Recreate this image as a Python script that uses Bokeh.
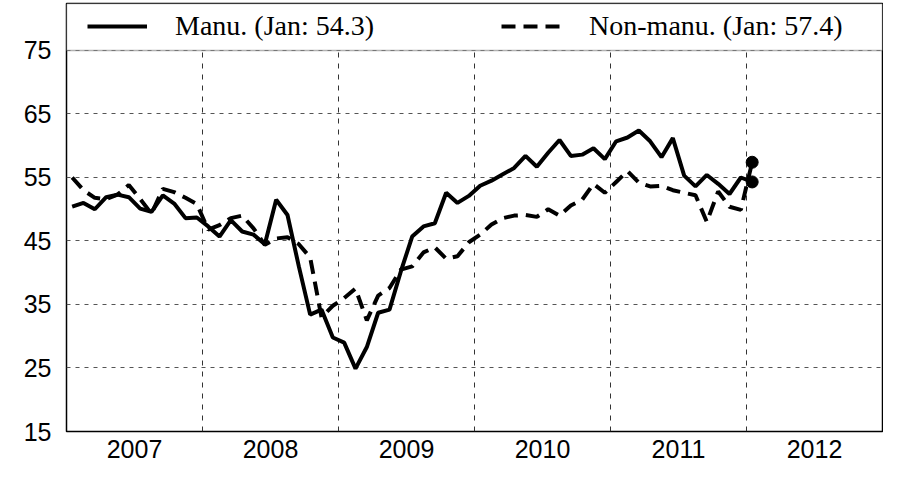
import pandas as pd
from bokeh.plotting import figure
from bokeh.models import FixedTicker, Range1d, BoxAnnotation, Legend, LegendItem
from bokeh.embed import file_html
from bokeh.resources import INLINE

# Monthly data, Jan 2007 .. Jan 2012
months = pd.date_range("2007-01-01", "2012-01-01", freq="MS")

manu = [50.4, 51.0, 50.0, 51.9, 52.3, 51.9, 50.1, 49.6, 52.2, 50.9, 48.6, 48.7,
        47.3, 45.7, 48.3, 46.5, 46.0, 44.5, 51.5, 49.1, 41.0, 33.4, 34.2, 29.8,
        29.0, 24.9, 28.3, 33.7, 34.2, 40.2, 45.7, 47.3, 47.8, 52.6, 51.0, 52.1,
        53.7, 54.5, 55.5, 56.5, 58.4, 56.7, 58.9, 60.9, 58.4, 58.6, 59.6, 57.9,
        60.7, 61.3, 62.4, 60.7, 58.2, 61.2, 55.3, 53.6, 55.4, 54.0, 52.4, 55.0,
        54.3]

non_manu = [55.0, 53.0, 51.8, 51.6, 52.3, 53.8, 51.6, 49.3, 53.2, 52.7, 51.8, 50.8,
            46.8, 47.5, 48.6, 49.0, 47.0, 44.4, 45.4, 45.6, 44.5, 42.4, 33.0, 34.8,
            36.0, 37.5, 32.5, 36.4, 37.6, 40.5, 41.0, 43.2, 44.0, 42.2, 42.6, 44.8,
            46.0, 47.6, 48.6, 49.0, 49.1, 48.8, 50.0, 49.0, 50.6, 51.5, 54.0, 52.6,
            54.3, 56.0, 54.2, 53.6, 53.7, 53.0, 52.6, 52.2, 48.0, 52.8, 50.4, 49.9,
            57.4]

year_labels = ["2007", "2008", "2009", "2010", "2011", "2012"]
y_ticks = [15, 25, 35, 45, 55, 65, 75]

# month mid-points on a fractional-year axis
x = [m.year + (m.month - 0.5) / 12.0 for m in months]
label_pos = [int(y) + 0.5 for y in year_labels]
year_bounds = [int(y) for y in year_labels[1:]]

p = figure(width=883, height=462,
           x_range=Range1d(2007, 2013), y_range=Range1d(15, 82.4),
           output_backend="svg", toolbar_location=None,
           min_border_left=66, min_border_right=1, min_border_top=3,
           min_border_bottom=31)

p.outline_line_color = "black"
p.outline_line_width = 1.5
p.background_fill_color = "white"

# axes
p.xaxis.ticker = FixedTicker(ticks=label_pos)
p.xaxis.major_label_overrides = {pos: lab for pos, lab in zip(label_pos, year_labels)}
p.yaxis.ticker = FixedTicker(ticks=y_ticks)
for ax in (p.xaxis[0], p.yaxis[0]):
    ax.axis_line_color = None
    ax.major_tick_line_color = None
    ax.minor_tick_line_color = None
    ax.major_label_text_font = "Liberation Sans"
    ax.major_label_text_font_size = "25px"
    ax.major_label_text_color = "black"
p.xaxis.major_label_standoff = 2
p.yaxis.major_label_standoff = 9

# grids
p.xgrid.ticker = FixedTicker(ticks=year_bounds)
p.xgrid.grid_line_color = "#333333"
p.xgrid.grid_line_dash = "5 6"
p.xgrid.grid_line_width = 1
p.ygrid.grid_line_color = "#555555"
p.ygrid.grid_line_dash = "4 5"
p.ygrid.grid_line_width = 1

# series
r1 = p.line(x, manu, line_color="black", line_width=4)
r2 = p.line(x, non_manu, line_color="black", line_width=4, line_dash="14 8")
p.scatter([x[-1], x[-1]], [manu[-1], non_manu[-1]], size=12,
          fill_color="black", line_color="black")

# legend band
band = BoxAnnotation(bottom=75, fill_color="white", fill_alpha=1.0,
                     line_color="black", line_width=1.5)
p.add_layout(band)

legend = Legend(items=[
    LegendItem(label=f"Manu. (Jan: {manu[-1]})", renderers=[r1]),
    LegendItem(label=f"Non-manu. (Jan: {non_manu[-1]})", renderers=[r2]),
], orientation="horizontal", location=(21, 389),
    glyph_width=60, glyph_height=30, label_height=30, label_standoff=28,
    spacing=127, padding=0, margin=0, border_line_color=None,
    background_fill_alpha=0,
    label_text_font="Liberation Serif", label_text_font_size="28px",
    label_text_color="black")
p.add_layout(legend)

open("out.html", "w").write(file_html(p, INLINE))
